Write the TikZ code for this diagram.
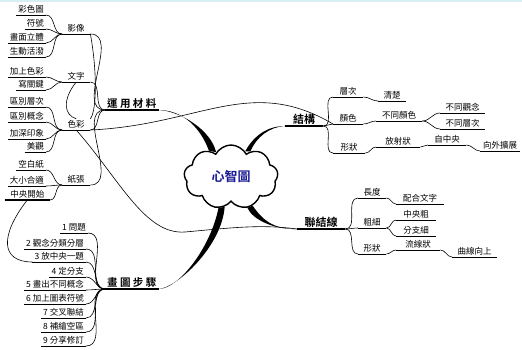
\documentclass[tikz,border=0pt]{standalone}
\usepackage{fontspec}
\setmainfont{Noto Sans CJK TC}[BoldFont={Noto Sans CJK TC Bold}]
\usetikzlibrary{shapes.symbols}

\definecolor{mindblue}{RGB}{25,25,150}
\definecolor{strip}{RGB}{215,238,242}

\tikzset{
    leaf/.style={font=\fontsize{8.5}{9}\selectfont, inner xsep=2pt, inner ysep=1.5pt,
        append after command={(\tikzlastnode.south west) edge[line width=0.6pt] (\tikzlastnode.south east)}},
    twig/.style={leaf, minimum width=28pt},
    mainbranch/.style={font=\fontsize{10.5}{11}\selectfont\bfseries, inner xsep=2pt, inner ysep=1.5pt,
        append after command={(\tikzlastnode.south west) edge[line width=1.2pt] (\tikzlastnode.south east)}},
    link/.style={line width=0.6pt},
    trunk/.style={fill=black},
}

\begin{document}
\begin{tikzpicture}[x=1pt, y=-1pt]
    \useasboundingbox (0,0) rectangle (522,350);
    \fill[strip] (0,0) rectangle (522,2.5);

    % Nodes
    \node[cloud, draw, line width=1.4pt, cloud puffs=9, cloud puff arc=125, aspect=1.45, minimum width=94pt, minimum height=64pt,
        text=mindblue, font=\fontsize{13}{14}\selectfont\bfseries] (mind) at (231,177) {心智圖};

    \node[mainbranch, anchor=south west] (material) at (105,110) {運 用 材 料};
    \node[twig, anchor=south west] (image) at (62,34) {影像};
    \node[twig, anchor=south west] (words) at (62,82) {文字};
    \node[twig, anchor=south west] (colour) at (62,130) {色彩};
    \node[twig, anchor=south west] (paper) at (62,185) {紙張};

    \node[leaf, anchor=south east] (colorpic) at (46,15) {彩色圖};
    \node[leaf, anchor=south east] (symbols) at (46,29) {符號};
    \node[leaf, anchor=south east] (solid) at (46,43) {畫面立體};
    \node[leaf, anchor=south east] (lively) at (46,57) {生動活潑};
    \node[leaf, anchor=south east] (addcolor) at (46,77) {加上色彩};
    \node[leaf, anchor=south east] (keyword) at (46,90) {寫關鍵};
    \node[leaf, anchor=south east] (levels) at (46,107) {區別層次};
    \node[leaf, anchor=south east] (concepts) at (46,122) {區別概念};
    \node[leaf, anchor=south east] (impress) at (46,139) {加深印象};
    \node[leaf, anchor=south east] (beauty) at (46,152) {美觀};
    \node[leaf, anchor=south east] (blank) at (46,170) {空白紙};
    \node[leaf, anchor=south east] (size) at (46,186) {大小合適};
    \node[leaf, anchor=south east, minimum width=45pt,
        append after command={(\tikzlastnode.south west) edge[line width=1.2pt] (\tikzlastnode.south east)}] (center) at (50,200) {中央開始};

    \node[mainbranch, anchor=south west] (steps) at (105,289) {畫 圖 步 驟};
    \node[leaf, anchor=south east] (s1) at (88,233) {1 問題};
    \node[leaf, anchor=south east] (s2) at (86,249) {2 觀念分類分層};
    \node[leaf, anchor=south east] (s3) at (86,262) {3 放中央一題};
    \node[leaf, anchor=south east] (s4) at (86,277) {4 定分支};
    \node[leaf, anchor=south east] (s5) at (86,290) {5 畫出不同概念};
    \node[leaf, anchor=south east] (s6) at (86,304) {6 加上圖表符號};
    \node[leaf, anchor=south east] (s7) at (86,318) {7 交叉聯結};
    \node[leaf, anchor=south east] (s8) at (86,332) {8 補繪空區};
    \node[leaf, anchor=south east] (s9) at (86,346) {9 分享修訂};

    \node[mainbranch, anchor=south west, minimum width=38pt, font=\fontsize{11}{12}\selectfont\bfseries] (structure) at (285,126) {結構};
    \node[twig, anchor=south west, minimum width=30pt] (layer) at (333,97) {層次};
    \node[twig, anchor=south west] (clear) at (378,101) {清楚};
    \node[twig, anchor=south west, minimum width=30pt] (hue) at (333,124) {顏色};
    \node[leaf, anchor=south west, minimum width=46pt] (diffhue) at (376,121) {不同顏色};
    \node[leaf, anchor=south west, minimum width=45pt] (diffidea) at (440,113) {不同觀念};
    \node[leaf, anchor=south west, minimum width=45pt] (difflevel) at (440,129) {不同層次};
    \node[twig, anchor=south west, minimum width=32pt] (shape) at (333,153) {形狀};
    \node[leaf, anchor=south west, minimum width=44pt] (radial) at (376,147) {放射狀};
    \node[leaf, anchor=south west, minimum width=38pt] (fromcenter) at (428,145) {自中央};
    \node[leaf, anchor=south west, minimum width=40pt] (outward) at (480,151) {向外擴展};

    \node[mainbranch, anchor=south west, minimum width=48pt, font=\fontsize{11}{12}\selectfont\bfseries] (connector) at (297,229) {聯結線};
    \node[twig, anchor=south west] (length) at (358,198) {長度};
    \node[leaf, anchor=south west, minimum width=48pt] (fixtext) at (396,204) {配合文字};
    \node[twig, anchor=south west] (girth) at (358,228) {粗細};
    \node[leaf, anchor=south west, minimum width=40pt] (thick) at (396,220) {中央粗};
    \node[leaf, anchor=south west, minimum width=40pt] (thin) at (396,236) {分支細};
    \node[twig, anchor=south west] (lshape) at (358,254) {形狀};
    \node[leaf, anchor=south west, minimum width=44pt] (flow) at (396,250) {流線狀};
    \node[leaf, anchor=south west, minimum width=45pt] (upward) at (452,257) {曲線向上};

    % Trunks
    \fill[trunk] (material.south east) .. controls +(25,0) and +(-8,-22) .. (mind.130)
        -- (mind.121) .. controls +(-5,-22) and +(22,1) .. (material.south east);
    \fill[trunk] (structure.south west) .. controls +(-18,0) and +(8,-15) .. (mind.61)
        -- (mind.53) .. controls +(6,-14) and +(-16,1) .. (structure.south west);
    \fill[trunk] (mind.-53) .. controls +(10,14) and +(-25,0) .. (connector.south west)
        .. controls +(-22,1) and +(5,12) .. (mind.-62) -- cycle;
    \fill[trunk] (mind.-112) .. controls +(-8,40) and +(20,0) .. (steps.south east)
        .. controls +(18,-1) and +(-3,40) .. (mind.-102) -- cycle;

    % Edges
    \draw[link] (image.south east) to[out=0, in=180] (material.south west);
    \draw[link] (words.south east) to[out=0, in=180] (material.south west);
    \draw[link] (colour.south east) to[out=0, in=180] (material.south west);
    \draw[link] (paper.south east) to[out=0, in=180] (material.south west);

    \draw[link] (colorpic.south east) to[out=0, in=180] (image.south west);
    \draw[link] (symbols.south east) to[out=0, in=180] (image.south west);
    \draw[link] (solid.south east) to[out=0, in=180] (image.south west);
    \draw[link] (lively.south east) to[out=0, in=180] (image.south west);
    \draw[link] (addcolor.south east) to[out=0, in=180] (words.south west);
    \draw[link] (keyword.south east) to[out=0, in=180] (words.south west);
    \draw[link] (levels.south east) to[out=0, in=180] (colour.south west);
    \draw[link] (concepts.south east) to[out=0, in=180] (colour.south west);
    \draw[link] (impress.south east) to[out=0, in=180] (colour.south west);
    \draw[link] (beauty.south east) to[out=0, in=180] (colour.south west);
    \draw[link] (blank.south east) to[out=0, in=180] (paper.south west);
    \draw[link] (size.south east) to[out=0, in=180] (paper.south west);
    \draw[link] (center.south east) to[out=0, in=180] (paper.south west);

    \draw[link] (s1.south east) to[out=0, in=180] (steps.south west);
    \draw[link] (s2.south east) to[out=0, in=180] (steps.south west);
    \draw[link] (s3.south east) to[out=0, in=180] (steps.south west);
    \draw[link] (s4.south east) to[out=0, in=180] (steps.south west);
    \draw[link] (s5.south east) to[out=0, in=180] (steps.south west);
    \draw[link] (s6.south east) to[out=0, in=180] (steps.south west);
    \draw[link] (s7.south east) to[out=0, in=180] (steps.south west);
    \draw[link] (s8.south east) to[out=0, in=180] (steps.south west);
    \draw[link] (s9.south east) to[out=0, in=180] (steps.south west);

    \draw[link] (structure.south east) to[out=0, in=180] (layer.south west);
    \draw[link] (structure.south east) to[out=0, in=180] (hue.south west);
    \draw[link] (structure.south east) to[out=0, in=180] (shape.south west);
    \draw[link] (layer.south east) to[out=0, in=180] (clear.south west);
    \draw[link] (hue.south east) to[out=0, in=180] (diffhue.south west);
    \draw[link] (diffhue.south east) to[out=0, in=180] (diffidea.south west);
    \draw[link] (diffhue.south east) to[out=0, in=180] (difflevel.south west);
    \draw[link] (shape.south east) to[out=0, in=180] (radial.south west);
    \draw[link] (radial.south east) to[out=0, in=180] (fromcenter.south west);
    \draw[link] (fromcenter.south east) to[out=0, in=180] (outward.south west);

    \draw[link] (connector.south east) to[out=0, in=180] (length.south west);
    \draw[link] (connector.south east) to[out=0, in=180] (girth.south west);
    \draw[link] (connector.south east) to[out=0, in=180] (lshape.south west);
    \draw[link] (length.south east) to[out=0, in=180] (fixtext.south west);
    \draw[link] (girth.south east) to[out=0, in=180] (thick.south west);
    \draw[link] (girth.south east) to[out=0, in=180] (thin.south west);
    \draw[link] (lshape.south east) to[out=0, in=180] (flow.south west);
    \draw[link] (flow.south east) to[out=0, in=180] (upward.south west);

    % Cross links
    \draw[link] (colour.south east) .. controls (200,125) and (250,75) .. (hue.south west);
    \draw[link] (colour.south) .. controls (120,180) and (145,235) .. (185,232)
        .. controls (230,228) and (260,224) .. (connector.south west);
    \draw[link] (image.south east) .. controls (97,70) and (97,110) .. (colour.north east);
    \draw[link] (words.south) .. controls (62,100) and (64,115) .. (colour.north);
    \draw[link] (center.south) .. controls (0,235) and (0,262) .. (s3.south west);
\end{tikzpicture}
\end{document}
